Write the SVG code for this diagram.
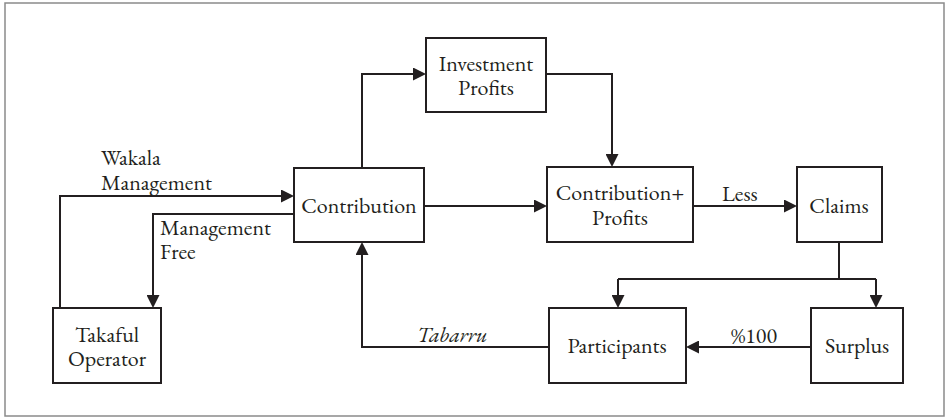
<svg xmlns="http://www.w3.org/2000/svg" width="949" height="418" viewBox="0 0 949 418" font-family="EB Garamond, Liberation Serif, serif" font-size="22">
<style>
.box{fill:#fff;stroke:#231f20;stroke-width:2}
.ln{fill:none;stroke:#231f20;stroke-width:2}
text{fill:#231f20}
.c{text-anchor:middle}
.i{font-style:italic}
</style>
<defs>
<marker id="ah" viewBox="0 0 13 13" refX="11" refY="6.5" markerWidth="13" markerHeight="13" markerUnits="userSpaceOnUse" orient="auto">
<path d="M0,0 L13,6.5 L0,13 z" fill="#231f20"/>
</marker>
</defs>
<rect x="5" y="3" width="939" height="413" fill="#fff" stroke="#8a8a8a" stroke-width="1.5"/>
<g id="connectors">
<path class="ln" d="M362,168 V74 H424" marker-end="url(#ah)"/>
<path class="ln" d="M546,74 H612 V165" marker-end="url(#ah)"/>
<path class="ln" d="M424,206 H545" marker-end="url(#ah)"/>
<path class="ln" d="M693,206 H795" marker-end="url(#ah)"/>
<path class="ln" d="M60,308 V196 H292" marker-end="url(#ah)"/>
<path class="ln" d="M294,214 H153 V306" marker-end="url(#ah)"/>
<path class="ln" d="M839,242 V279"/>
<path class="ln" d="M618,279 H876"/>
<path class="ln" d="M618,279 V306" marker-end="url(#ah)"/>
<path class="ln" d="M876,279 V306" marker-end="url(#ah)"/>
<path class="ln" d="M811,347 H688" marker-end="url(#ah)"/>
<path class="ln" d="M549,347 H362 V244" marker-end="url(#ah)"/>
<text x="101" y="165">Wakala</text>
<text x="101" y="190">Management</text>
<text x="160" y="235">Management</text>
<text x="160" y="259">Free</text>
<text x="722" y="201">Less</text>
<text x="731" y="343">%100</text>
<text class="i" x="417" y="342">Tabarru</text>
</g>
<g id="investment">
<rect class="box" x="426" y="38" width="120" height="74"/>
<text class="c" x="486" y="71">Investment</text>
<text class="c" x="486" y="95">Profits</text>
</g>
<g id="contribution">
<rect class="box" x="294" y="168" width="130" height="74"/>
<text class="c" x="359" y="213">Contribution</text>
</g>
<g id="contribution-profits">
<rect class="box" x="547" y="167" width="146" height="75"/>
<text class="c" x="620" y="200">Contribution+</text>
<text class="c" x="620" y="225">Profits</text>
</g>
<g id="claims">
<rect class="box" x="797" y="167" width="85" height="75"/>
<text class="c" x="839" y="213">Claims</text>
</g>
<g id="takaful">
<rect class="box" x="53" y="308" width="108" height="75"/>
<text class="c" x="107" y="342">Takaful</text>
<text class="c" x="107" y="366">Operator</text>
</g>
<g id="participants">
<rect class="box" x="549" y="308" width="137" height="75"/>
<text class="c" x="617" y="353">Participants</text>
</g>
<g id="surplus">
<rect class="box" x="811" y="308" width="92" height="75"/>
<text class="c" x="857" y="353">Surplus</text>
</g>
</svg>
